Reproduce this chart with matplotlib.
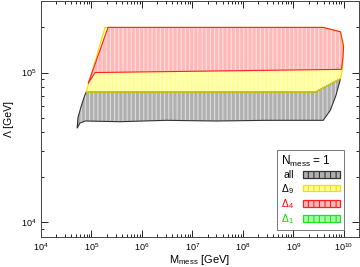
import numpy as np
import matplotlib
matplotlib.use("Agg")
import matplotlib.pyplot as plt
from matplotlib.patches import Patch

plt.rcParams['font.family'] = ['Liberation Sans', 'DejaVu Sans']
plt.rcParams['mathtext.fontset'] = 'custom'
plt.rcParams['mathtext.rm'] = 'Liberation Sans'
plt.rcParams['mathtext.it'] = 'Liberation Sans:italic'
plt.rcParams['hatch.linewidth'] = 0.8

# region boundaries (closed polygons), M_mess and Lambda in GeV
all_x = [5.2e4, 5.9e4, 7.5e4, 3.7e5, 3e6, 3e7, 3e8, 3.9e9, 5.4e9, 7e9, 8.6e9,
         2.7e9, 7.8e4, 7.1e4, 6.2e4, 5.4e4]
all_y = [4.25e4, 4.6e4, 4.75e4, 4.7e4, 4.8e4, 4.75e4, 4.8e4, 4.8e4, 5.6e4, 7.05e4, 9.1e4,
         7.4e4, 7.4e4, 6.8e4, 5.9e4, 5.0e4]

d9_x = [7.8e4, 1.86e5, 3.9e9, 8.6e9, 9.8e9, 9.4e9, 8.6e9, 2.7e9]
d9_y = [7.4e4, 2.0e5, 2.0e5, 1.87e5, 1.4e5, 1.05e5, 9.1e4, 7.4e4]

d4_x = [8.6e4, 2.13e5, 3.9e9, 8.6e9, 9.9e9, 9.6e9, 9.0e9, 1.18e5]
d4_y = [8.45e4, 2.0e5, 2.0e5, 1.87e5, 1.5e5, 1.25e5, 1.05e5, 1.0e5]

regions = [
    ("all", all_x, all_y, "#b0b0b0", "#dcdcdc", "#333333", "black"),
    ("Δ$_9$", d9_x, d9_y, "#ffff96", "#ffffd0", "#f0e000", "black"),
    ("Δ$_4$", d4_x, d4_y, "#ffb8b8", "#ffe0e0", "#ff2020", "red"),
]
d1_style = ("Δ$_1$", "#a8ffa8", "#e0ffe0", "#20e020", "#00dd00")

fig = plt.figure(figsize=(3.6, 2.67), dpi=100)
ax = fig.add_axes([41/360, 1 - 237/267, 318/360, 236/267])

for name, xs, ys, fc, hc, ec, tc in regions:
    ax.fill(xs, ys, facecolor=fc, edgecolor=hc, hatch='||||', linewidth=0, zorder=2)
    ax.fill(xs, ys, facecolor='none', edgecolor=ec, linewidth=0.8, zorder=3)

ax.set_xscale('log')
ax.set_yscale('log')
ax.set_xlim(1e4, 2e10)
ax.set_ylim(8e3, 3e5)
ax.tick_params(which='both', direction='in', top=True, right=True, labelsize=6.5, pad=3)
ax.tick_params(which='major', length=5, width=0.6)
ax.tick_params(which='minor', length=2.5, width=0.6)
for s in ax.spines.values():
    s.set_linewidth(0.7)
    s.set_color('#444444')

ax.set_xlabel("M$_{\\mathrm{mess}}$ [GeV]", fontsize=8, labelpad=0)
ax.set_ylabel("Λ [GeV]", fontsize=7.5, labelpad=5)

handles = []
labels = []
colors = []
for name, xs, ys, fc, hc, ec, tc in regions:
    handles.append(Patch(facecolor=fc, edgecolor=ec, hatch='|||', linewidth=0.9))
    labels.append(name)
    colors.append(tc)
handles.append(Patch(facecolor=d1_style[1], edgecolor=d1_style[3], hatch='|||', linewidth=0.9))
labels.append(d1_style[0])
colors.append(d1_style[4])

leg = ax.legend(handles, labels, loc='lower right', bbox_to_anchor=(0.953, 0.03),
                borderaxespad=0,
                title="N$_{\\mathrm{mess}}$ = 1", fontsize=7.5, title_fontsize=8.5, fancybox=False,
                frameon=True, edgecolor='#555555', handlelength=3.6, handleheight=0.6,
                labelspacing=0.15, handletextpad=0.9, borderpad=0.35,
                markerfirst=False)
leg.get_frame().set_linewidth(0.7)
leg._legend_box.align = "left"
leg._legend_box.sep = 1
for t, c in zip(leg.get_texts(), colors):
    t.set_color(c)

fig.savefig("out.png", dpi=100)
